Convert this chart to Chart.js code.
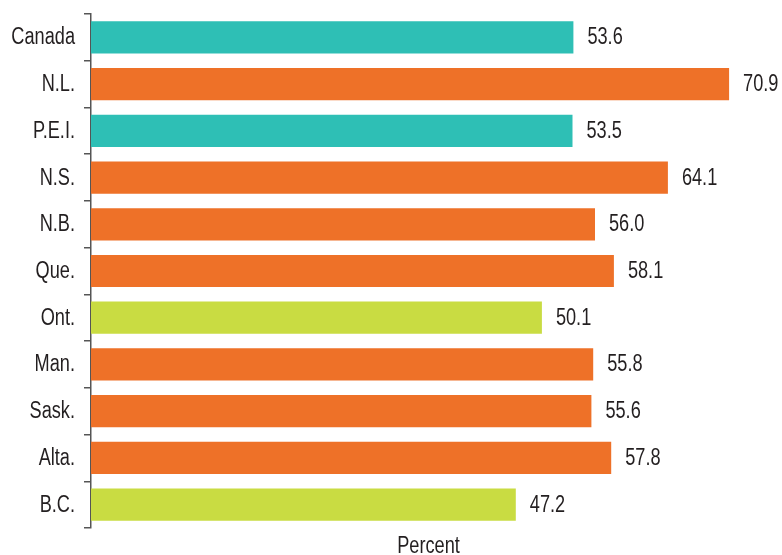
<!DOCTYPE html>
<html lang="en">
<head>
<meta charset="UTF-8">
<title>Percent by province</title>
<script src="https://cdn.jsdelivr.net/npm/chart.js@4"></script>
<style>
  html, body { margin: 0; padding: 0; background: #fff; }
  #wrap { width: 782px; height: 555px; position: relative; }
</style>
</head>
<body>
<div id="wrap"><canvas id="chart"></canvas></div>
<script>
// Regions and their values (percent)
const regions = ['Canada', 'N.L.', 'P.E.I.', 'N.S.', 'N.B.', 'Que.', 'Ont.', 'Man.', 'Sask.', 'Alta.', 'B.C.'];
const percents = [53.6, 70.9, 53.5, 64.1, 56.0, 58.1, 50.1, 55.8, 55.6, 57.8, 47.2];
// group per bar: national, above, below
const groups = ['canada', 'above', 'canada', 'above', 'above', 'above', 'below', 'above', 'above', 'above', 'below'];
const axisTitle = 'Percent';

const groupColours = { canada: '#2ebfb5', above: '#ee7128', below: '#c9dc42' };
const FONT = "23px 'Liberation Sans', Arial, sans-serif";
const TEXT = '#231f20';
const SQUEEZE = 0.79; // narrow type, drawn with a horizontal squeeze

function narrowText(ctx, str, x, y, align) {
  const w = ctx.measureText(str).width * SQUEEZE;
  let left = x;
  if (align === 'right') left = x - w;
  else if (align === 'center') left = x - w / 2;
  ctx.save();
  ctx.translate(left, y);
  ctx.scale(SQUEEZE, 1);
  ctx.textAlign = 'left';
  ctx.fillText(str, 0, 0);
  ctx.restore();
}

// category names, value labels and the axis title
const textLayer = {
  id: 'textLayer',
  afterDraw(chart) {
    const ctx = chart.ctx;
    const meta = chart.getDatasetMeta(0);
    const yScale = chart.scales.y;
    const area = chart.chartArea;
    ctx.save();
    ctx.font = FONT;
    ctx.fillStyle = TEXT;
    ctx.textBaseline = 'alphabetic';
    meta.data.forEach((bar, i) => {
      const y = yScale.getPixelForValue(i) + 7;
      narrowText(ctx, regions[i], area.left - 16, y, 'right');
      narrowText(ctx, percents[i].toFixed(1), bar.x + 14, y, 'left');
    });
    narrowText(ctx, axisTitle, (area.left + area.right) / 2, 553, 'center');
    ctx.restore();
  }
};

new Chart(document.getElementById('chart'), {
  type: 'bar',
  data: {
    labels: regions,
    datasets: [{
      data: percents,
      backgroundColor: groups.map(g => groupColours[g]),
      borderWidth: 0,
      categoryPercentage: 1,
      barPercentage: 0.69
    }]
  },
  options: {
    indexAxis: 'y',
    responsive: true,
    maintainAspectRatio: false,
    animation: false,
    layout: { padding: { top: 14, right: 16, left: 0, bottom: 0 } },
    plugins: { legend: { display: false }, tooltip: { enabled: false } },
    scales: {
      x: {
        min: 0,
        max: 75,
        grid: { display: false },
        border: { display: false },
        ticks: { display: false },
        afterFit(scale) { scale.height = 27; }
      },
      y: {
        grid: {
          display: true,
          offset: true,
          drawOnChartArea: false,
          drawTicks: true,
          tickLength: 7,
          color: '#555',
          lineWidth: 1.5
        },
        border: { display: true, color: '#555', width: 1.5 },
        ticks: { display: false },
        afterFit(scale) { scale.width = 91; }
      }
    }
  },
  plugins: [textLayer]
});
</script>
</body>
</html>
